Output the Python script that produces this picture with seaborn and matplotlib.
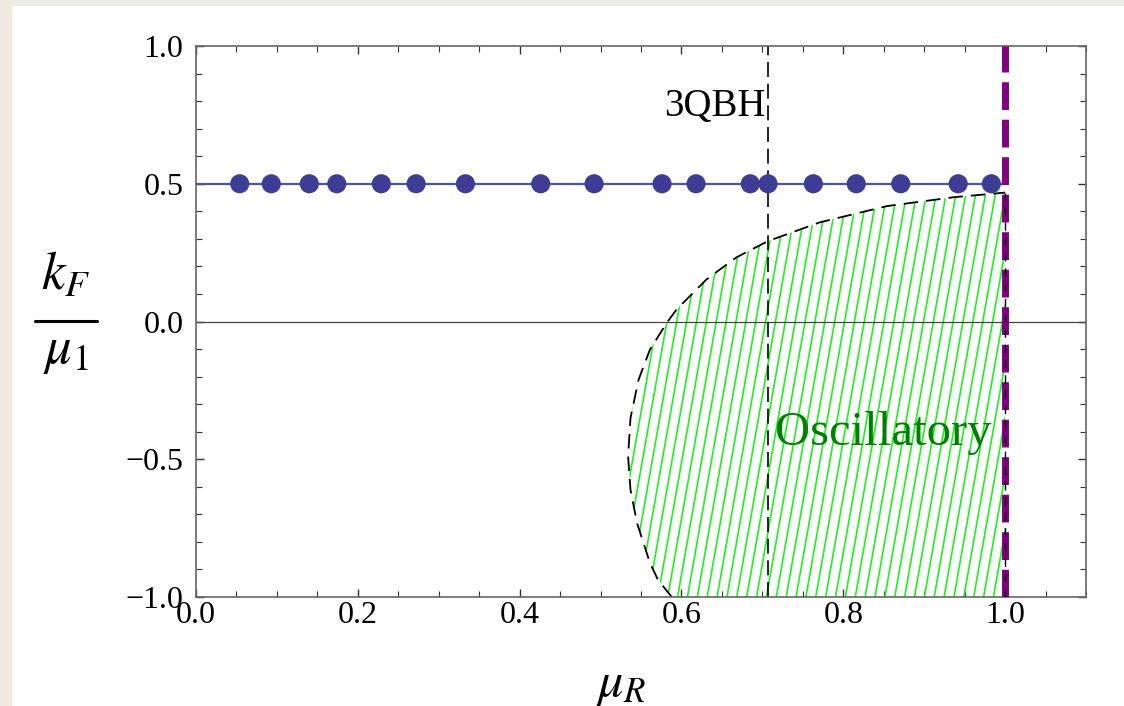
import numpy as np
import matplotlib.pyplot as plt
import seaborn as sns
from matplotlib.patches import Polygon, Rectangle
from matplotlib.collections import LineCollection
from matplotlib.lines import Line2D
from matplotlib.ticker import MultipleLocator, FuncFormatter

# bound states found numerically (k_F / mu_1 = 0.5)
mu_r_points = [0.054, 0.093, 0.140, 0.174, 0.229, 0.272, 0.333, 0.426, 0.492,
               0.576, 0.618, 0.685, 0.707, 0.763, 0.816, 0.871, 0.942, 0.983]
kf_points = [0.5] * len(mu_r_points)

# dashed boundary of the oscillatory region
bound_y = [-1.0, -0.938, -0.876, -0.731, -0.611, -0.49, -0.35, -0.211, -0.102,
           -0.004, 0.044, 0.153, 0.233, 0.292, 0.36, 0.419, 0.451, 0.468]
bound_x = [0.588, 0.571, 0.561, 0.545, 0.537, 0.534, 0.537, 0.547, 0.561,
           0.582, 0.594, 0.631, 0.668, 0.707, 0.771, 0.854, 0.936, 1.0]

qbh_x = 0.707
edge_x = 1.0

sns.set_style('ticks')
plt.rcParams['font.family'] = ['Liberation Serif', 'DejaVu Serif']
plt.rcParams['mathtext.fontset'] = 'stix'
plt.rcParams['text.color'] = 'black'
plt.rcParams['xtick.labelcolor'] = 'black'
plt.rcParams['ytick.labelcolor'] = 'black'

fig = plt.figure(figsize=(11.24, 7.06), dpi=100)
fig.patch.set_facecolor('#eeeae2')
fig.patches.append(Rectangle((12 / 1124, 0), 1, 1 - 6 / 706, transform=fig.transFigure,
                             facecolor='white', edgecolor='none', zorder=-5))
ax = fig.add_axes([0.1744, 0.1544, 0.7918, 0.7804])
ax.set_zorder(2)
ax.set_facecolor('white')

# hatched region
poly = Polygon(list(zip(bound_x, bound_y)) + [(edge_x, -1.0)], closed=True,
               facecolor='none', edgecolor='none')
ax.add_patch(poly)
offs = np.arange(0.40, 1.05, 0.0122)
segs = [[(c, -1.0), (c + 0.06 * 2, 1.0)] for c in offs]
lc = LineCollection(segs, colors='#1ef01e', linewidths=1.2, zorder=1)
ax.add_collection(lc)
lc.set_clip_path(poly)

ax.plot(bound_x, bound_y, color='black', lw=1.3, ls=(0, (8, 4.5)), zorder=2)
ax.axhline(0, color='#444444', lw=0.9, zorder=1.5)
ax.axvline(qbh_x, color='black', lw=1.2, ls=(0, (9, 4)), zorder=2)

sns.lineplot(x=[0.0, edge_x], y=[0.5, 0.5], color='#5050b0', lw=1.6, ax=ax, zorder=3)
sns.scatterplot(x=mu_r_points, y=kf_points, color='#3d3d96', s=190, edgecolor='none',
                ax=ax, zorder=4)

ax.axvline(edge_x, color='#800080', lw=5, ls=(0, (4, 1.4)), zorder=5)
ax.plot([edge_x, edge_x], [-1.0, 0.468], color='black', lw=1.0, ls=(0, (6, 5)), zorder=6)

ax.text(qbh_x - 0.003, 0.78, '3QBH', ha='right', va='center', fontsize=28, color='black')
ax.text(0.849, -0.447, 'Oscillatory', ha='center', va='baseline', fontsize=35,
        color='#008000')

ax.set_xlim(0, 1.1)
ax.set_ylim(-1, 1)
ax.xaxis.set_major_locator(MultipleLocator(0.2))
ax.xaxis.set_minor_locator(MultipleLocator(0.05))
ax.yaxis.set_major_locator(MultipleLocator(0.5))
ax.yaxis.set_minor_locator(MultipleLocator(0.1))
fmt = FuncFormatter(lambda v, p: f'{v:.1f}'.replace('-', '\u2212'))
ax.xaxis.set_major_formatter(fmt)
ax.yaxis.set_major_formatter(fmt)
ax.tick_params(which='both', direction='in', top=True, right=True, color='#333333',
               labelsize=23, labelcolor='black')
ax.tick_params(which='major', length=6, width=1)
ax.tick_params(which='minor', length=4, width=0.8)
ax.tick_params(axis='y', pad=9)
ax.tick_params(axis='x', pad=3)
for s in ax.spines.values():
    s.set_color('#666666')
    s.set_linewidth(1.2)
ax.set_xlabel('')
ax.set_ylabel('')

# y label as a stacked fraction
fig.text(0.0587, 1 - 276 / 706, r'$k_F$', ha='center', va='center', fontsize=38, color='black')
fig.lines.append(Line2D([35 / 1124, 97 / 1124], [1 - 321 / 706] * 2, color='black', lw=2.2,
                        transform=fig.transFigure))
fig.text(0.0587, 1 - 352 / 706, r'$\mu_1$', ha='center', va='center', fontsize=38, color='black')
fig.text(0.553, 0.03, r'$\mu_R$', ha='center', va='center', fontsize=36, color='black')

fig.savefig('out.png', dpi=100, facecolor=fig.get_facecolor())
